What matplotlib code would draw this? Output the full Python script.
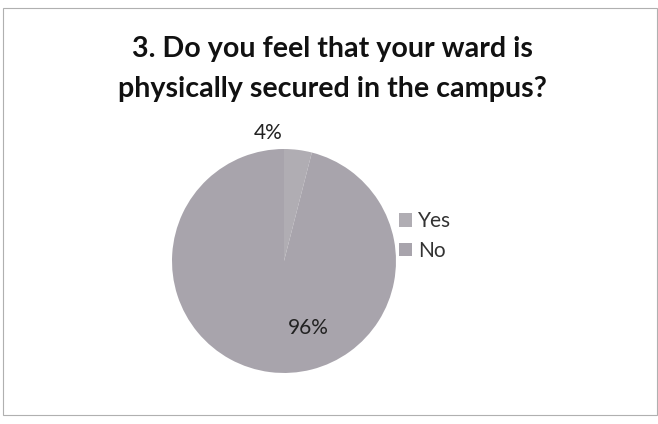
import matplotlib.pyplot as plt
from matplotlib.patches import Rectangle

# dados
categorias = ['Yes', 'No']
valores = [4, 96]
cores = ['#b0adb3', '#a8a4ac']
titulo = ['3. Do you feel that your ward is', 'physically secured in the campus?']

plt.rcParams['font.family'] = ['Lato', 'DejaVu Sans']

fig = plt.figure(figsize=(6.58, 4.24), dpi=100)
fig.patch.set_facecolor('white')

# moldura
fig.add_artist(Rectangle((0.0046, 0.021), 0.994, 0.96, transform=fig.transFigure,
                         fill=False, edgecolor='#b0b0b0', linewidth=0.8))

# título em duas linhas
fig.text(0.5046, (424 - 57) / 424, titulo[0], ha='center', va='baseline',
         fontsize=20.6, fontweight='bold', color='#111111')
fig.text(0.5046, (424 - 97) / 424, titulo[1], ha='center', va='baseline',
         fontsize=20.6, fontweight='bold', color='#111111')

# pizza
ax = fig.add_axes([0.2529, 0.1071, 0.3574, 0.5547])
cunhas, textos, pct = ax.pie(valores, colors=cores, startangle=90, counterclock=False,
                             autopct='%d%%', wedgeprops=dict(linewidth=0))
ax.set_aspect('equal')
ax.set_xlim(-1.05, 1.05)
ax.set_ylim(-1.05, 1.05)

# posições dos rótulos como no original
pct[0].set_position((-0.14, 1.14))
pct[1].set_position((0.22, -0.60))
for t in pct:
    t.set_fontsize(15)
    t.set_color('#222222')
    t.set_ha('center')
    t.set_va('center')

leg = fig.legend(cunhas, categorias, loc='center left',
                 bbox_to_anchor=(399 / 658, (424 - 236) / 424),
                 bbox_transform=fig.transFigure, borderpad=0, borderaxespad=0,
                 frameon=False, fontsize=15, handlelength=0.62, handleheight=0.62,
                 handletextpad=0.3, labelspacing=0.45)
for t in leg.get_texts():
    t.set_color('#333333')

fig.savefig('out.png', dpi=100)
